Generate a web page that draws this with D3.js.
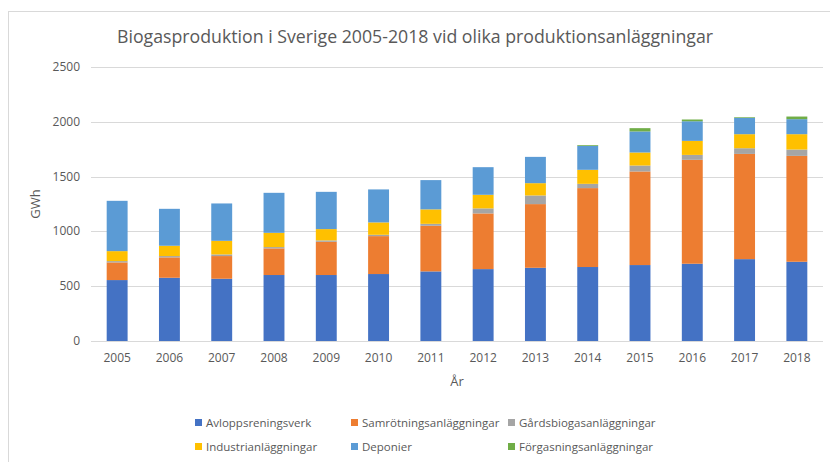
<!DOCTYPE html>
<html>
<head>
<meta charset="utf-8">
<script src="https://cdn.jsdelivr.net/npm/d3@7"></script>
<style>
  body { margin: 0; background: #fff; }
  text { font-family: "Open Sans", Calibri, sans-serif; fill: #595959; }
</style>
</head>
<body>
<div id="chart"></div>
<script>
// data (GWh)
var years = ["2005","2006","2007","2008","2009","2010","2011","2012","2013","2014","2015","2016","2017","2018"];
var avlopp   = [556, 577, 568, 602, 602, 611, 635, 656, 668, 675, 693, 705, 747, 723];
var samrot   = [161, 186, 207, 243, 303, 346, 416, 508, 581, 720, 854, 948, 960, 966];
var gards    = [12, 12, 15, 12, 13, 12, 18, 46, 79, 39, 54, 45, 52, 58];
var industri = [91, 94, 124, 130, 103, 113, 132, 124, 112, 128, 119, 128, 128, 140];
var deponier = [459, 337, 341, 365, 340, 301, 267, 252, 240, 218, 192, 179, 149, 137];
var forgas   = [0, 0, 0, 0, 0, 0, 0, 0, 0, 7, 30, 16, 6, 24];
var yTicks = [0, 500, 1000, 1500, 2000, 2500];

var seriesNames = ["Avloppsreningsverk", "Samrötningsanläggningar", "Gårdsbiogasanläggningar",
                   "Industrianläggningar", "Deponier", "Förgasningsanläggningar"];
var seriesVals = [avlopp, samrot, gards, industri, deponier, forgas];
var colors = ["#4472C4", "#ED7D31", "#A5A5A5", "#FFC000", "#5B9BD5", "#70AD47"];

(function(){
var W = 830, H = 462;
var pLeft = 91, pRight = 823, pTop = 67, pBottom = 341;

var svg = d3.select("#chart").append("svg")
    .attr("width", W)
    .attr("height", H);

// chart frame
svg.append("rect")
    .attr("x", 8.5).attr("y", 11.5)
    .attr("width", 840).attr("height", 470)
    .attr("fill", "none")
    .attr("stroke", "#d9d9d9");

var table = years.map(function(yr, i){
    var row = {year: yr};
    seriesNames.forEach(function(n, j){ row[n] = seriesVals[j][i]; });
    return row;
});

var x = d3.scaleBand().domain(years).range([pLeft, pRight]).paddingInner(0.6).paddingOuter(0.3);
var y = d3.scaleLinear().domain([0, 2500]).range([pBottom, pTop]);

// gridlines
svg.append("g").selectAll("line")
    .data(yTicks)
    .enter().append("line")
    .attr("x1", pLeft).attr("x2", pRight)
    .attr("y1", function(d){ return Math.round(y(d)) + 0.5; })
    .attr("y2", function(d){ return Math.round(y(d)) + 0.5; })
    .attr("stroke", "#d9d9d9")
    .attr("stroke-width", 1);

// y labels
svg.append("g").selectAll("text")
    .data(yTicks)
    .enter().append("text")
    .attr("x", 80)
    .attr("y", function(d){ return y(d) + 4; })
    .attr("text-anchor", "end")
    .attr("font-size", 12)
    .text(function(d){ return d; });

// stacked bars
var stack = d3.stack().keys(seriesNames)(table);

svg.append("g").selectAll("g")
    .data(stack)
    .enter().append("g")
    .attr("fill", function(d, i){ return colors[i]; })
    .selectAll("rect")
    .data(function(d){ return d; })
    .enter().append("rect")
    .attr("x", function(d){ return x(d.data.year); })
    .attr("width", x.bandwidth())
    .attr("y", function(d){ return y(d[1]); })
    .attr("height", function(d){ return y(d[0]) - y(d[1]); });

// x labels
svg.append("g").selectAll("text")
    .data(years)
    .enter().append("text")
    .attr("x", function(d){ return x(d) + x.bandwidth()/2; })
    .attr("y", 362)
    .attr("text-anchor", "middle")
    .attr("font-size", 12)
    .text(function(d){ return d; });

// axis titles
svg.append("text")
    .attr("x", (pLeft + pRight)/2)
    .attr("y", 386)
    .attr("text-anchor", "middle")
    .attr("font-size", 13)
    .text("År");

svg.append("text")
    .attr("transform", "translate(40," + ((pTop + pBottom)/2) + ") rotate(-90)")
    .attr("text-anchor", "middle")
    .attr("font-size", 13)
    .text("GWh");

// title
svg.append("text")
    .attr("x", 415)
    .attr("y", 43)
    .attr("text-anchor", "middle")
    .attr("font-size", 18)
    .attr("textLength", 596)
    .attr("lengthAdjust", "spacingAndGlyphs")
    .text("Biogasproduktion i Sverige 2005-2018 vid olika produktionsanläggningar");

// legend
var legX = [195, 351, 508];
var legY = [423, 447];
var leg = svg.append("g").selectAll("g")
    .data(seriesNames)
    .enter().append("g")
    .attr("transform", function(d, i){
        return "translate(" + legX[i % 3] + "," + legY[Math.floor(i / 3)] + ")";
    });

leg.append("rect")
    .attr("x", 0).attr("y", -4)
    .attr("width", 7).attr("height", 7)
    .attr("fill", function(d, i){ return colors[i]; });

leg.append("text")
    .attr("x", 11)
    .attr("y", 4)
    .attr("font-size", 11.5)
    .text(function(d){ return d; });
})();
</script>
</body>
</html>
